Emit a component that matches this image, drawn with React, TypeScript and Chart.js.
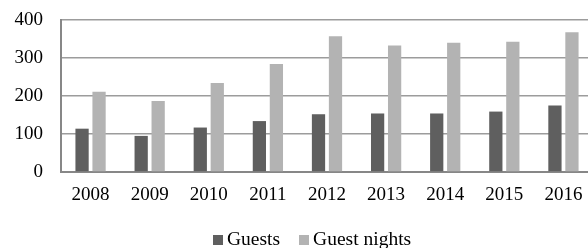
import React, { useEffect, useRef } from "react";
import { Chart, registerables } from "chart.js";

Chart.register(...registerables);

const years = ["2008", "2009", "2010", "2011", "2012", "2013", "2014", "2015", "2016"];
const guests = [114, 95, 117, 134, 152, 154, 154, 159, 175];
const guestNights = [211, 187, 234, 284, 357, 333, 340, 343, 368];
const seriesNames = ["Guests", "Guest nights"];
const seriesColors = ["#5f5f5f", "#b3b3b3"];
const yTicks = [0, 100, 200, 300, 400];

const FONT = "'Liberation Serif', 'Times New Roman', serif";

export default function App() {
  const ref = useRef<HTMLCanvasElement>(null);

  useEffect(() => {
    if (!ref.current) return;
    const chart = new Chart(ref.current, {
      type: "bar",
      data: {
        labels: years,
        datasets: [
          {
            label: seriesNames[0],
            data: guests,
            backgroundColor: seriesColors[0],
            barPercentage: 0.78,
            categoryPercentage: 0.575,
          },
          {
            label: seriesNames[1],
            data: guestNights,
            backgroundColor: seriesColors[1],
            barPercentage: 0.78,
            categoryPercentage: 0.575,
          },
        ],
      },
      options: {
        animation: false,
        responsive: true,
        maintainAspectRatio: false,
        layout: { padding: { top: 20, left: 14, right: 7, bottom: 0 } },
        plugins: {
          legend: { display: false },
          tooltip: { enabled: false },
        },
        scales: {
          x: {
            grid: { display: false, drawTicks: false },
            border: { display: true, color: "#878787", width: 2 },
            ticks: {
              color: "#000",
              padding: 12,
              font: { family: FONT, size: 19 },
              maxRotation: 0,
            },
            afterFit: (scale: any) => {
              scale.height = 76;
              scale.paddingLeft = 0;
              scale.paddingRight = 0;
            },
          },
          y: {
            min: yTicks[0],
            max: yTicks[yTicks.length - 1],
            grid: { color: "#9c9c9c", lineWidth: 1.5, drawTicks: false },
            border: { display: true, color: "#878787", width: 2 },
            afterBuildTicks: (scale: any) => {
              scale.ticks = yTicks.map((v) => ({ value: v }));
            },
            ticks: {
              color: "#000",
              padding: 18,
              font: { family: FONT, size: 19 },
            },
            afterFit: (scale: any) => {
              scale.width = 47;
              scale.paddingTop = 0;
              scale.paddingBottom = 0;
            },
          },
        },
      },
    });
    return () => chart.destroy();
  }, []);

  return (
    <div
      style={{
        position: "fixed",
        left: 0,
        top: 0,
        width: 588,
        height: 248,
        overflow: "hidden",
        background: "#fff",
      }}
    >
      <div style={{ position: "absolute", left: 0, top: 0, width: 600, height: 248 }}>
        <canvas ref={ref} />
      </div>
      <div
        style={{
          position: "absolute",
          left: 213,
          top: 229,
          display: "flex",
          alignItems: "flex-start",
          fontFamily: FONT,
          fontSize: 19.5,
          lineHeight: "19.5px",
          color: "#000",
          whiteSpace: "nowrap",
        }}
      >
        {seriesNames.map((name, i) => (
          <div
            key={name}
            style={{ display: "flex", alignItems: "flex-start", marginRight: i === 0 ? 19 : 0 }}
          >
            <span
              style={{
                display: "inline-block",
                width: 10,
                height: 10,
                marginTop: 6,
                marginRight: 4,
                background: seriesColors[i],
              }}
            />
            <span>{name}</span>
          </div>
        ))}
      </div>
    </div>
  );
}
